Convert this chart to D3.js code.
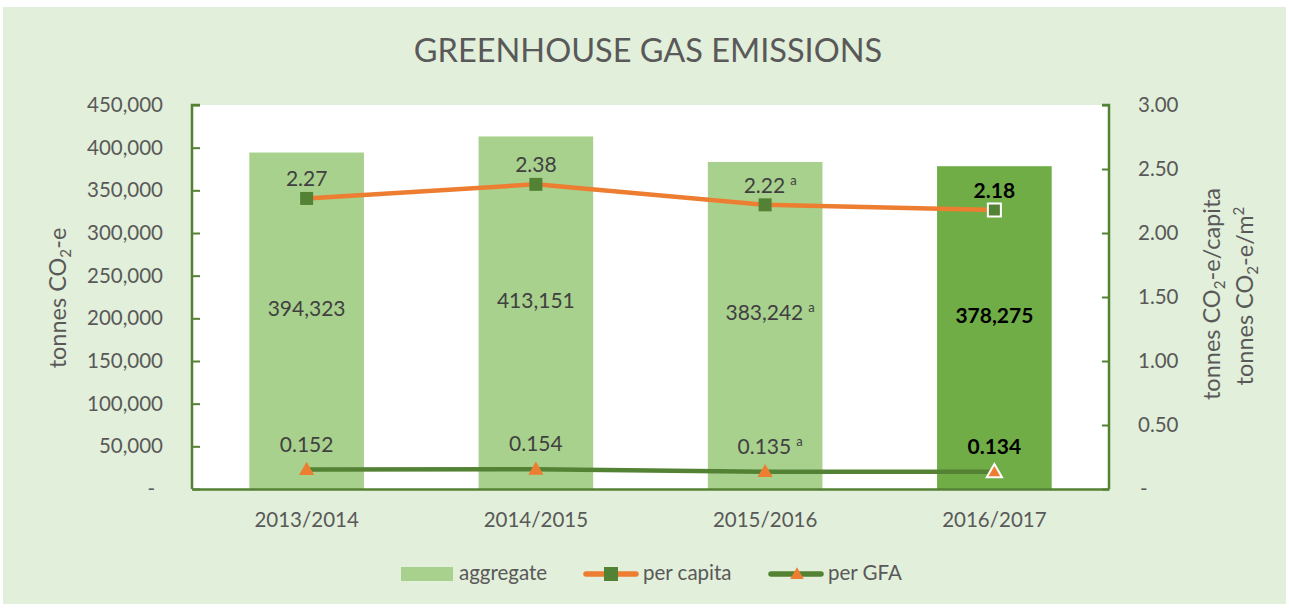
<!DOCTYPE html>
<html><head><meta charset="utf-8">
<script src="https://cdn.jsdelivr.net/npm/d3@7"></script>
<style>body{margin:0;background:#fff;}svg{display:block;font-family:Lato,"Open Sans",sans-serif;}</style>
</head><body>
<svg id="c" width="1289" height="608"></svg>
<script>
const categories = ["2013/2014","2014/2015","2015/2016","2016/2017"];
const aggregate = [394323, 413151, 383242, 378275];
const perCapita = [2.27, 2.38, 2.22, 2.18];
const perGFA = [0.152, 0.154, 0.135, 0.134];
const footnotes = ["", "", "a", ""];
const leftTicks = [0,50000,100000,150000,200000,250000,300000,350000,400000,450000];
const rightTicks = [0,0.5,1,1.5,2,2.5,3];
const highlight = 3;

const C = {bg:"#E2EFDA", bar:"#A9D18E", barHi:"#70AD47", orange:"#ED7D31", green:"#548235", text:"#595959", label:"#404040"};
const svg = d3.select("#c");
const L=192, R=1109, T=105, B=489;

svg.append("rect").attr("x",3).attr("y",7).attr("width",1283).attr("height",597).attr("fill",C.bg);
svg.append("rect").attr("x",L).attr("y",T).attr("width",R-L).attr("height",B-T).attr("fill","#fff");

const x = d3.scaleBand().domain(categories).range([L,R]).paddingInner(0.5).paddingOuter(0.25);
const yL = d3.scaleLinear().domain([0,450000]).range([B,T]);
const yR = d3.scaleLinear().domain([0,3]).range([B,T]);
const cx = i => x(categories[i]) + x.bandwidth()/2;

svg.append("text").attr("x",648).attr("y",62).attr("text-anchor","middle").attr("font-size",32.5).attr("fill",C.text).text("GREENHOUSE GAS EMISSIONS");

// bars
svg.selectAll("rect.bar").data(aggregate).join("rect").attr("class","bar")
  .attr("x",(d,i)=>x(categories[i])).attr("width",x.bandwidth())
  .attr("y",d=>yL(d)).attr("height",d=>B-yL(d))
  .attr("fill",(d,i)=>i===highlight?C.barHi:C.bar);

// axes
const axL = svg.append("g").attr("transform",`translate(${L},0)`)
  .call(d3.axisRight(yL).tickValues(leftTicks).tickSize(8).tickFormat(""));
axL.selectAll("line").attr("stroke",C.green).attr("stroke-width",2);
axL.select(".domain").attr("stroke",C.green).attr("stroke-width",2.5).attr("d",`M8,${T}H0V${B}`);
svg.append("g").selectAll("text").data(leftTicks).join("text")
  .attr("x",d=>d===0?155:163).attr("y",d=>yL(d)+7).attr("text-anchor","end")
  .attr("font-size",20.5).attr("fill",C.text).text(d=>d===0?"-":d3.format(",")(d));

const axR = svg.append("g").attr("transform",`translate(${R},0)`)
  .call(d3.axisLeft(yR).tickValues(rightTicks).tickSize(7).tickFormat(""));
axR.selectAll("line").attr("stroke",C.green).attr("stroke-width",2);
axR.select(".domain").attr("stroke",C.green).attr("stroke-width",2.5).attr("d",`M-7,${T}H0V${B}`);
svg.append("g").selectAll("text").data(rightTicks).join("text")
  .attr("x",d=>d===0?1140:1138).attr("y",d=>yR(d)+7).attr("text-anchor","start")
  .attr("font-size",20.5).attr("fill",C.text).text(d=>d===0?"-":d3.format(".2f")(d));

const axB = svg.append("g").attr("transform",`translate(0,${B})`)
  .call(d3.axisBottom(x).tickSize(0).tickPadding(0));
axB.select(".domain").attr("stroke",C.green).attr("stroke-width",2.5);
axB.selectAll("text").attr("y",38).attr("dy",0).attr("font-size",20.5).attr("fill",C.text).attr("font-family","Lato,sans-serif");

// axis titles
function co2(t, rest, sup){
  t.append("tspan").text("tonnes CO");
  t.append("tspan").attr("font-size","0.65em").attr("dy",5).text("2");
  t.append("tspan").attr("dy",-5).text(rest);
  if(sup){ t.append("tspan").attr("font-size","0.65em").attr("dy",-9).text(sup); }
}
const tl = svg.append("text").attr("transform","translate(66,298) rotate(-90)").attr("text-anchor","middle").attr("font-size",23.5).attr("fill",C.text);
co2(tl,"-e");
const tr1 = svg.append("text").attr("transform","translate(1220,294) rotate(-90)").attr("text-anchor","middle").attr("font-size",23.5).attr("fill",C.text);
co2(tr1,"-e/capita");
const tr2 = svg.append("text").attr("transform","translate(1253,296) rotate(-90)").attr("text-anchor","middle").attr("font-size",23.5).attr("fill",C.text);
co2(tr2,"-e/m","2");

// lines
const lineR = d3.line().x((d,i)=>cx(i)).y(d=>yR(d));
svg.append("path").attr("d",lineR(perCapita)).attr("fill","none").attr("stroke",C.orange).attr("stroke-width",4.5).attr("stroke-linejoin","round");
svg.append("path").attr("d",lineR(perGFA)).attr("fill","none").attr("stroke",C.green).attr("stroke-width",4.5).attr("stroke-linejoin","round");

// markers
const sq = d3.symbol().type(d3.symbolSquare).size(169);
svg.selectAll("path.sq").data(perCapita).join("path").attr("class","sq")
  .attr("transform",(d,i)=>`translate(${cx(i)},${yR(d)})`).attr("d",sq)
  .attr("fill",C.green).attr("stroke",(d,i)=>i===highlight?"#fff":"none").attr("stroke-width",2);
const tri = d3.symbol().type(d3.symbolTriangle).size(100);
svg.selectAll("path.tri").data(perGFA).join("path").attr("class","tri")
  .attr("transform",(d,i)=>`translate(${cx(i)},${yR(d)+1})`).attr("d",tri)
  .attr("fill",C.orange).attr("stroke",(d,i)=>i===highlight?"#fff":"none").attr("stroke-width",2);

// data labels
function label(xp, yp, txt, i){
  const t = svg.append("text").attr("x",xp).attr("y",yp).attr("text-anchor","middle")
    .attr("font-size",21).attr("fill",i===highlight?"#000":C.label).attr("font-weight",i===highlight?"bold":"normal");
  t.append("tspan").text(txt);
  if(footnotes[i]){
    t.append("tspan").attr("font-size",13).attr("dx",5).attr("dy",-8).text(footnotes[i]);
    t.attr("x",xp+5);
  }
}
aggregate.forEach((d,i)=>label(cx(i),(yL(d)+B)/2-5,d3.format(",")(d),i));
perCapita.forEach((d,i)=>label(cx(i),yR(d)-12,d3.format(".2f")(d),i));
perGFA.forEach((d,i)=>label(cx(i),yR(d)-18,d3.format(".3f")(d),i));

// legend
const lg = svg.append("g");
lg.append("rect").attr("x",401).attr("y",567).attr("width",52).attr("height",14).attr("fill",C.bar);
lg.append("text").attr("x",459).attr("y",580).attr("font-size",20.5).attr("fill",C.text).text("aggregate");
lg.append("line").attr("x1",586).attr("x2",636).attr("y1",574).attr("y2",574).attr("stroke",C.orange).attr("stroke-width",5.5).attr("stroke-linecap","round");
lg.append("rect").attr("x",604).attr("y",567).attr("width",14).attr("height",14).attr("fill",C.green);
lg.append("text").attr("x",643).attr("y",580).attr("font-size",20.5).attr("fill",C.text).text("per capita");
lg.append("line").attr("x1",771).attr("x2",821).attr("y1",574).attr("y2",574).attr("stroke",C.green).attr("stroke-width",5.5).attr("stroke-linecap","round");
lg.append("path").attr("transform","translate(797,575)").attr("d",d3.symbol().type(d3.symbolTriangle).size(80)).attr("fill",C.orange);
lg.append("text").attr("x",828).attr("y",580).attr("font-size",20.5).attr("fill",C.text).text("per GFA");
</script>
</body></html>
